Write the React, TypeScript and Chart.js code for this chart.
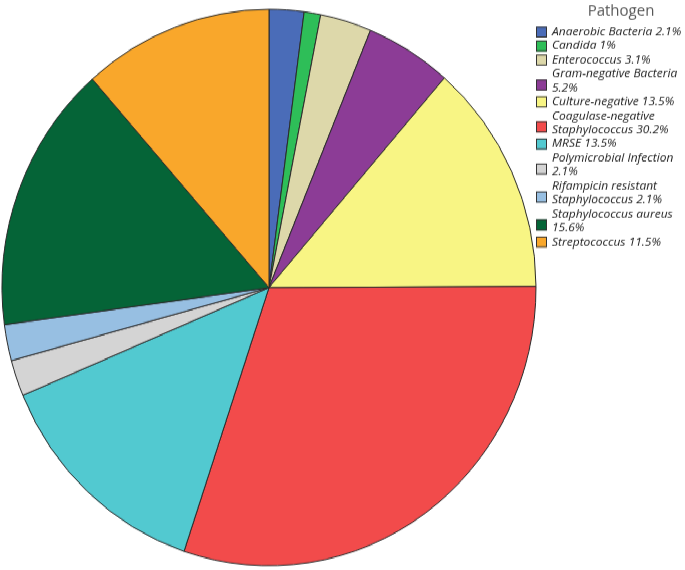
import { useEffect, useRef } from "react";
import { Chart, registerables } from "chart.js";

Chart.register(...registerables);

const categories = [
  "Anaerobic Bacteria",
  "Candida",
  "Enterococcus",
  "Gram-negative Bacteria",
  "Culture-negative",
  "Coagulase-negative Staphylococcus",
  "MRSE",
  "Polymicrobial Infection",
  "Rifampicin resistant Staphylococcus",
  "Staphylococcus aureus",
  "Streptococcus",
];
const values = [2.1, 1, 3.1, 5.2, 13.5, 30.2, 13.5, 2.1, 2.1, 15.6, 11.5];
const legendLines = [
  ["Anaerobic Bacteria 2.1%"],
  ["Candida 1%"],
  ["Enterococcus 3.1%"],
  ["Gram-negative Bacteria", "5.2%"],
  ["Culture-negative 13.5%"],
  ["Coagulase-negative", "Staphylococcus 30.2%"],
  ["MRSE 13.5%"],
  ["Polymicrobial Infection", "2.1%"],
  ["Rifampicin resistant", "Staphylococcus 2.1%"],
  ["Staphylococcus aureus", "15.6%"],
  ["Streptococcus 11.5%"],
];
const legendTitle = "Pathogen";
const colors = [
  "#4a6cb8",
  "#2ebe58",
  "#ddd8aa",
  "#8c3c96",
  "#f8f584",
  "#f24b4b",
  "#52c9d0",
  "#d4d4d4",
  "#97bfe2",
  "#056437",
  "#f9a72b",
];

const W = 685;
const H_INNER = 547;
const S = 570 / H_INNER;

const legendPlugin = {
  id: "customLegend",
  afterDraw(chart: any) {
    const ctx = chart.ctx as CanvasRenderingContext2D;
    ctx.save();
    ctx.scale(1, 1 / S);
    ctx.fillStyle = "#555";
    ctx.font = '15px "Open Sans"';
    ctx.textAlign = "center";
    ctx.textBaseline = "middle";
    ctx.fillText(legendTitle, 621, 11);

    ctx.font = 'italic 12px "Open Sans"';
    ctx.textAlign = "left";
    let li = 0;
    legendLines.forEach((lines, i) => {
      const ys = lines.map((_, k) => 32 + 14 * (li + k));
      const bc = lines.length === 1 ? ys[0] : (ys[0] + ys[1]) / 2 + 4;
      ctx.fillStyle = colors[i];
      ctx.fillRect(536, bc - 5.5, 11, 11);
      ctx.strokeStyle = "#333";
      ctx.lineWidth = 1;
      ctx.strokeRect(536.5, bc - 5, 10, 10);
      ctx.fillStyle = "#1a1a1a";
      lines.forEach((t, k) => ctx.fillText(t, 552, ys[k]));
      li += lines.length;
    });
    ctx.restore();
  },
};

export default function App() {
  const ref = useRef<HTMLCanvasElement>(null);
  useEffect(() => {
    if (!ref.current) return;
    const chart = new Chart(ref.current, {
      type: "pie",
      data: {
        labels: categories,
        datasets: [
          {
            data: values,
            backgroundColor: colors,
            borderColor: "#2a2a2a",
            borderWidth: 1,
            radius: 267,
          } as any,
        ],
      },
      options: {
        animation: false,
        responsive: true,
        maintainAspectRatio: false,
        layout: { padding: { left: 2, right: 149, top: 9, bottom: 4 } },
        plugins: { legend: { display: false }, tooltip: { enabled: false } },
      },
      plugins: [legendPlugin],
    });
    return () => chart.destroy();
  }, []);
  return (
    <div
      style={{
        position: "fixed",
        left: 0,
        top: 0,
        width: W,
        height: H_INNER,
        transform: `scaleY(${S})`,
        transformOrigin: "top left",
        background: "#fff",
      }}
    >
      <canvas ref={ref} />
    </div>
  );
}
